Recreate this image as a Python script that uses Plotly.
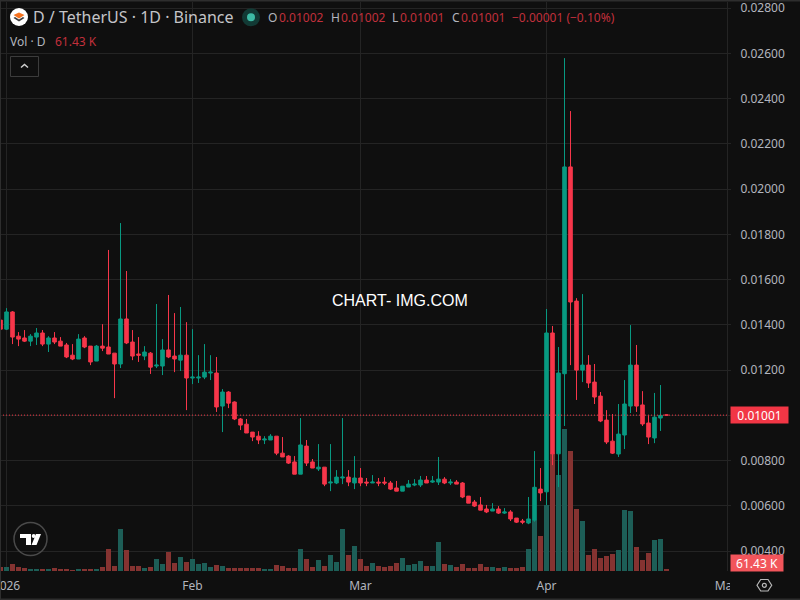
import pandas as pd
import plotly.graph_objects as go

# daily candles (first bar is 2025-12-31)
opens = [
    0.01421, 0.01381, 0.01457, 0.01350, 0.01342, 0.01328, 0.01346, 0.01364, 0.01315, 0.01342,
    0.01328, 0.01311, 0.01266, 0.01249, 0.01342, 0.01306, 0.01240, 0.01306, 0.01302, 0.01275,
    0.01227, 0.01426, 0.01324, 0.01271, 0.01262, 0.01275, 0.01218, 0.01218, 0.01289, 0.01262,
    0.01244, 0.01266, 0.01165, 0.01165, 0.01169, 0.01187, 0.01187, 0.01041, 0.01103, 0.01059,
    0.00984, 0.00961, 0.00926, 0.00908, 0.00891, 0.00891, 0.00908, 0.00833, 0.00820, 0.00794,
    0.00740, 0.00864, 0.00794, 0.00763, 0.00771, 0.00701, 0.00701, 0.00723, 0.00727, 0.00701,
    0.00723, 0.00705, 0.00701, 0.00705, 0.00705, 0.00701, 0.00679, 0.00665, 0.00683, 0.00692,
    0.00692, 0.00714, 0.00705, 0.00705, 0.00718, 0.00701, 0.00705, 0.00701, 0.00643, 0.00617,
    0.00604, 0.00586, 0.00577, 0.00586, 0.00568, 0.00573, 0.00546, 0.00533, 0.00524, 0.00537,
    0.00674, 0.00662, 0.01364, 0.00830, 0.01184, 0.02098, 0.01505, 0.01200, 0.01222, 0.01147,
    0.01085, 0.00979, 0.00886, 0.00829, 0.00913, 0.01041, 0.01222, 0.01046, 0.00966, 0.00900,
    0.00988, 0.01002,
]
highs = [
    0.01435, 0.01474, 0.01461, 0.01368, 0.01377, 0.01359, 0.01386, 0.01377, 0.01350, 0.01368,
    0.01346, 0.01320, 0.01315, 0.01359, 0.01350, 0.01306, 0.01311, 0.01403, 0.01731, 0.01275,
    0.01850, 0.01638, 0.01377, 0.01346, 0.01306, 0.01280, 0.01492, 0.01337, 0.01532, 0.01452,
    0.01479, 0.01412, 0.01381, 0.01266, 0.01315, 0.01266, 0.01258, 0.01116, 0.01107, 0.01062,
    0.00988, 0.00984, 0.00926, 0.00930, 0.00908, 0.00917, 0.00908, 0.00904, 0.00824, 0.00820,
    0.00988, 0.00891, 0.00807, 0.00873, 0.00771, 0.00873, 0.00758, 0.00988, 0.00758, 0.00820,
    0.00767, 0.00723, 0.00736, 0.00723, 0.00727, 0.00710, 0.00710, 0.00687, 0.00714, 0.00718,
    0.00732, 0.00732, 0.00732, 0.00816, 0.00727, 0.00718, 0.00714, 0.00705, 0.00643, 0.00626,
    0.00639, 0.00604, 0.00612, 0.00599, 0.00590, 0.00581, 0.00546, 0.00542, 0.00639, 0.00842,
    0.00767, 0.01470, 0.01395, 0.01302, 0.02579, 0.02345, 0.01518, 0.01536, 0.01266, 0.01227,
    0.01103, 0.01023, 0.01006, 0.01050, 0.01156, 0.01399, 0.01311, 0.01107, 0.01000, 0.01099,
    0.01134, 0.01002,
]
lows = [
    0.01375, 0.01377, 0.01315, 0.01306, 0.01324, 0.01306, 0.01311, 0.01306, 0.01280, 0.01315,
    0.01306, 0.01253, 0.01244, 0.01249, 0.01297, 0.01222, 0.01240, 0.01284, 0.01271, 0.01076,
    0.01209, 0.01315, 0.01244, 0.01236, 0.01244, 0.01183, 0.01209, 0.01178, 0.01253, 0.01191,
    0.01196, 0.01023, 0.01138, 0.01143, 0.01160, 0.01156, 0.01015, 0.00926, 0.01032, 0.00979,
    0.00935, 0.00922, 0.00886, 0.00873, 0.00873, 0.00891, 0.00824, 0.00816, 0.00785, 0.00740,
    0.00740, 0.00776, 0.00767, 0.00754, 0.00687, 0.00665, 0.00696, 0.00696, 0.00687, 0.00674,
    0.00687, 0.00687, 0.00701, 0.00687, 0.00692, 0.00670, 0.00665, 0.00665, 0.00683, 0.00687,
    0.00683, 0.00701, 0.00701, 0.00692, 0.00696, 0.00692, 0.00696, 0.00634, 0.00612, 0.00595,
    0.00581, 0.00568, 0.00577, 0.00564, 0.00564, 0.00533, 0.00524, 0.00519, 0.00519, 0.00530,
    0.00621, 0.00603, 0.00780, 0.00683, 0.00953, 0.01222, 0.01068, 0.01147, 0.01121, 0.01050,
    0.00970, 0.00873, 0.00829, 0.00816, 0.00851, 0.01010, 0.01015, 0.00953, 0.00873, 0.00877,
    0.00931, 0.01001,
]
closes = [
    0.01381, 0.01457, 0.01346, 0.01337, 0.01328, 0.01350, 0.01364, 0.01315, 0.01342, 0.01324,
    0.01306, 0.01258, 0.01249, 0.01337, 0.01302, 0.01236, 0.01306, 0.01297, 0.01271, 0.01227,
    0.01426, 0.01320, 0.01262, 0.01266, 0.01280, 0.01213, 0.01222, 0.01289, 0.01258, 0.01249,
    0.01266, 0.01165, 0.01169, 0.01169, 0.01191, 0.01191, 0.01037, 0.01103, 0.01054, 0.00984,
    0.00957, 0.00922, 0.00904, 0.00891, 0.00895, 0.00908, 0.00833, 0.00816, 0.00789, 0.00740,
    0.00869, 0.00789, 0.00767, 0.00771, 0.00696, 0.00705, 0.00727, 0.00727, 0.00705, 0.00723,
    0.00701, 0.00701, 0.00705, 0.00701, 0.00701, 0.00674, 0.00665, 0.00687, 0.00696, 0.00696,
    0.00714, 0.00701, 0.00710, 0.00718, 0.00701, 0.00705, 0.00696, 0.00639, 0.00612, 0.00599,
    0.00581, 0.00573, 0.00586, 0.00568, 0.00573, 0.00542, 0.00528, 0.00528, 0.00542, 0.00682,
    0.00657, 0.01364, 0.00830, 0.01187, 0.02098, 0.01501, 0.01200, 0.01222, 0.01143, 0.01081,
    0.00975, 0.00882, 0.00833, 0.00917, 0.01050, 0.01222, 0.01041, 0.00962, 0.00904, 0.00992,
    0.01000, 0.01001,
]
# volume in thousands
volumes = [
    240, 240, 420, 240, 180, 120, 120, 120, 120, 180,
    120, 120, 60, 120, 120, 120, 120, 240, 1320, 300,
    2520, 1260, 300, 300, 180, 240, 720, 420, 1140, 480,
    840, 540, 720, 420, 480, 240, 360, 300, 180, 180,
    180, 180, 180, 180, 120, 120, 360, 300, 180, 180,
    1320, 720, 240, 660, 300, 960, 540, 2520, 960, 1500,
    720, 300, 480, 300, 240, 300, 480, 780, 360, 420,
    600, 300, 300, 1740, 420, 360, 240, 420, 180, 180,
    420, 240, 240, 180, 240, 180, 180, 240, 1320, 3060,
    2100, 3960, 7080, 5760, 8520, 7200, 3720, 3000, 960, 1320,
    780, 900, 1020, 1260, 3660, 3600, 1440, 660, 1080, 1860,
    1920, 61.43,
]
dates = pd.date_range("2025-12-31", periods=len(opens))

month_ticks = ["2026-01-01", "2026-02-01", "2026-03-01", "2026-04-01", "2026-05-01"]
month_labels = ["2026", "Feb", "Mar", "Apr", "May"]
price_ticks = [0.004, 0.006, 0.008, 0.010, 0.012, 0.014, 0.016, 0.018, 0.020, 0.022, 0.024, 0.026, 0.028]
# the 0.01000 label sits under the last price tag
price_labels = ["0.00400", "0.00600", "0.00800", "", "0.01200", "0.01400", "0.01600",
                "0.01800", "0.02000", "0.02200", "0.02400", "0.02600", "0.02800"]
last_price = 0.01001

BG = "#0f0f0f"
GRID = "#242424"
UP = "#089981"
DOWN = "#f7364a"
VOL_UP = "#1d5e57"
VOL_DOWN = "#853331"
LABEL = "#b2b5be"
TEXT_RED = "#c2303c"
FONT = "Noto Sans"

# plot area in page pixels, used for the overlay furniture
W, H = 727, 569
TOP = 2


def px(x):
    return x / W


def py(y):
    return 1 - (y - TOP) / H


def poly(points):
    return "M " + " L ".join(f"{px(x):.5f} {py(y):.5f}" for x, y in points) + " Z"


def rect(x0, y0, x1, y1, fill=None, line=None, width=1, **kw):
    return dict(type="rect", xref="paper", yref="paper", x0=px(x0), x1=px(x1), y0=py(y0), y1=py(y1),
                fillcolor=fill or "rgba(0,0,0,0)", line=dict(color=line or "rgba(0,0,0,0)", width=width if line else 0), **kw)


def circle(cx, cy, r, fill=None, line=None, width=1):
    return dict(type="circle", xref="paper", yref="paper", x0=px(cx - r), x1=px(cx + r), y0=py(cy - r), y1=py(cy + r),
                fillcolor=fill or "rgba(0,0,0,0)", line=dict(color=line or "rgba(0,0,0,0)", width=width if line else 0))


def shape_path(points, fill=None, line=None, width=1, closed=True):
    d = poly(points)
    if not closed:
        d = d[:-2]
    return dict(type="path", xref="paper", yref="paper", path=d, fillcolor=fill or "rgba(0,0,0,0)",
                line=dict(color=line or "rgba(0,0,0,0)", width=width if line else 0))


def label(x, y, text, color=LABEL, size=12, family=FONT, xanchor="left"):
    return dict(xref="paper", yref="paper", x=px(x), y=py(y), text=text, showarrow=False, xanchor=xanchor,
                yanchor="middle", font=dict(color=color, size=size, family=family), borderpad=0, borderwidth=0)


vol_colors = [VOL_UP if c >= o else VOL_DOWN for o, c in zip(opens, closes)]

fig = go.Figure()
fig.add_trace(go.Bar(x=dates, y=volumes, marker=dict(color=vol_colors, line_width=0), yaxis="y", hoverinfo="skip"))
fig.add_trace(go.Candlestick(
    x=dates, open=opens, high=highs, low=lows, close=closes, yaxis="y2", whiskerwidth=0,
    increasing=dict(line=dict(color=UP, width=1), fillcolor=UP),
    decreasing=dict(line=dict(color=DOWN, width=1), fillcolor=DOWN),
))

shapes = [
    # last price line
    dict(type="line", xref="paper", yref="y2", x0=0, x1=1, y0=last_price, y1=last_price,
         line=dict(color="#f23645", width=1, dash="1px,2px")),
    # keeps the May label cut off at the price scale, as in the original
    rect(730, 572, 800, 598, fill=BG, layer="above"),
    # outer frame
    rect(0, 0, 800, 1.5, fill="#2e2e2e"),
    rect(0, 598.5, 800, 600, fill="#2e2e2e"),
    rect(0, 0, 1, 600, fill="#2e2e2e"),
    # symbol logo
    circle(19, 17, 9, fill="#ffffff"),
    shape_path([(13.5, 15), (19, 12.5), (24.5, 15), (19, 18.5)], fill="#f5721f"),
    shape_path([(13.5, 18), (15, 17), (19, 19.5), (23, 17), (24.5, 18), (19, 21.5)], fill="#3a3a3a"),
    # market status dot
    circle(251, 17.3, 9, fill="#123a35"),
    circle(251, 17.3, 4, fill="#3dbba5"),
    # collapse button
    rect(10.5, 56.5, 38.5, 76.5, line="#3c3c3c"),
    shape_path([(21, 67.5), (24.5, 64.5), (28, 67.5)], line="#d0d0d0", width=1.5, closed=False),
    # tradingview mark
    circle(30.5, 539, 16.5, line="#4a4a4a", width=1.5),
    shape_path([(20, 534), (31, 534), (31, 545), (26, 545), (26, 538), (20, 538)], fill="#ffffff"),
    circle(33.7, 536, 2, fill="#ffffff"),
    shape_path([(36, 534), (41, 534), (36.5, 545), (31.5, 545)], fill="#ffffff"),
    # settings hexagon
    shape_path([(757, 585.3), (760.7, 579.5), (768, 579.5), (771.7, 585.3), (768, 591), (760.7, 591)], line="#b8b8b8", width=1.2),
    circle(764.3, 585.3, 2, line="#b8b8b8", width=1.2),
]

annotations = [
    label(33, 17, "D / TetherUS · 1D · Binance", size=16, color="#c4c4c8"),
    label(268, 17, "O", color=LABEL),
    label(279, 17, "0.01002", color=TEXT_RED),
    label(331, 17, "H", color=LABEL),
    label(341, 17, "0.01002", color=TEXT_RED),
    label(392, 17, "L", color=LABEL),
    label(400, 17, "0.01001", color=TEXT_RED),
    label(452, 17, "C", color=LABEL),
    label(461, 17, "0.01001", color=TEXT_RED),
    label(512, 17, "−0.00001 (−0.10%)", color=TEXT_RED),
    label(10, 41, "Vol · D", color=LABEL),
    label(55, 41, "61.43 K", color=TEXT_RED),
    label(400, 300, "CHART- IMG.COM", color="#ffffff", size=16, family="Liberation Sans", xanchor="center"),
    dict(xref="paper", yref="paper", x=px(730), y=py(415), text="0.01001", showarrow=False, xanchor="left", yanchor="middle",
         width=57, height=16, bgcolor="#f23645", font=dict(color="#ffffff", size=12, family=FONT), align="center", borderpad=0),
    dict(xref="paper", yref="paper", x=px(730), y=py(563), text="61.43 K", showarrow=False, xanchor="left", yanchor="middle",
         width=52, height=16, bgcolor="#f2555b", font=dict(color="#ffffff", size=12, family=FONT), align="center", borderpad=0),
]

fig.update_layout(
    width=800, height=600,
    margin=dict(l=0, r=73, t=TOP, b=29, pad=0, autoexpand=False),
    paper_bgcolor=BG, plot_bgcolor=BG,
    showlegend=False, bargap=0.17, boxgap=0.15,
    font=dict(family=FONT, color=LABEL, size=12),
    shapes=shapes, annotations=annotations,
    xaxis=dict(
        type="date", range=["2025-12-30 22:00", "2026-05-01 02:00"],
        tickmode="array", tickvals=month_ticks, ticktext=month_labels, ticklabeloverflow="allow",
        showgrid=True, gridcolor=GRID, gridwidth=1, zeroline=False, showline=False, ticks="",
        rangeslider=dict(visible=False), tickfont=dict(size=12, color=LABEL, family=FONT), ticklabelstandoff=6,
    ),
    yaxis=dict(range=[0, 34140], showgrid=False, zeroline=False, showticklabels=False, ticks=""),
    yaxis2=dict(
        overlaying="y", side="right", range=[0.00312, 0.02827],
        tickmode="array", tickvals=price_ticks, ticktext=price_labels, ticklabeloverflow="allow",
        showgrid=True, gridcolor=GRID, gridwidth=1, zeroline=False,
        showline=True, linecolor=GRID, linewidth=1, ticks="outside", ticklen=3, tickcolor=GRID,
        tickfont=dict(size=12, color=LABEL, family=FONT), ticklabelstandoff=7,
    ),
)

# the page keeps the browser's default body margin otherwise
fig.write_html("out.html", config={"displayModeBar": False}, post_script="document.body.style.margin='0';")
